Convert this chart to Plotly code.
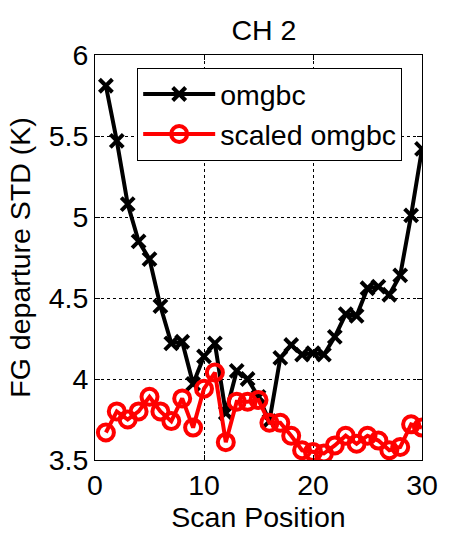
import plotly.graph_objects as go

# Scan positions 1..30 and first-guess departure standard deviations (K)
scan_pos = list(range(1, 31))
omgbc = [5.81, 5.47, 5.08, 4.85, 4.74, 4.45, 4.22, 4.23, 3.97, 4.14,
         4.22, 3.79, 4.05, 4.00, 3.89, 3.74, 4.13, 4.21, 4.15, 4.16,
         4.15, 4.26, 4.40, 4.39, 4.56, 4.57, 4.52, 4.64, 5.01, 5.42]
scaled_omgbc = [3.67, 3.80, 3.75, 3.80, 3.89, 3.80, 3.74, 3.88, 3.70, 3.94,
                4.04, 3.61, 3.86, 3.86, 3.87, 3.73, 3.73, 3.65, 3.56, 3.55,
                3.54, 3.59, 3.65, 3.60, 3.65, 3.62, 3.56, 3.58, 3.72, 3.70]

x_ticks = [0, 10, 20, 30]
y_ticks = [3.5, 4, 4.5, 5, 5.5, 6]

FONT = "Liberation Sans, Arial, sans-serif"
FS = 28.5

fig = go.Figure()
fig.add_trace(go.Scatter(
    x=scan_pos, y=omgbc, mode="lines+markers", name="omgbc",
    line=dict(color="black", width=4),
    marker=dict(symbol="x-thin-open", size=13, line=dict(color="black", width=4)),
))
fig.add_trace(go.Scatter(
    x=scan_pos, y=scaled_omgbc, mode="lines+markers", name="scaled omgbc",
    line=dict(color="red", width=4),
    marker=dict(symbol="circle-open", size=16, line=dict(color="red", width=4)),
))

axis_common = dict(
    showline=True, linecolor="black", linewidth=1, mirror="ticks",
    ticks="inside", ticklen=5, tickcolor="black",
    showgrid=True, gridcolor="black", griddash="dot", gridwidth=1,
    zeroline=False, tickfont=dict(family=FONT, size=FS, color="black"),
)

fig.update_layout(
    width=450, height=536,
    margin=dict(l=95, r=17, t=55, b=74),
    paper_bgcolor="white", plot_bgcolor="white",
    font=dict(family=FONT, color="black"),
    title=dict(text="CH 2", x=(95 + 433) / 2 / 450, xanchor="center",
               y=1 - 30 / 536, yanchor="middle",
               font=dict(family=FONT, size=FS, color="black")),
    xaxis=dict(range=[0, 30], tickvals=x_ticks, ticktext=[str(v) for v in x_ticks],
               title=dict(text="Scan Position", standoff=3,
                          font=dict(family=FONT, size=FS, color="black")),
               **axis_common),
    yaxis=dict(range=[3.5, 6], tickvals=y_ticks, ticktext=[f"{v:g}" for v in y_ticks],
               title=dict(text="FG departure STD (K)", standoff=9,
                          font=dict(family=FONT, size=FS, color="black")),
               **axis_common),
    legend=dict(x=0.129, y=0.968, xanchor="left", yanchor="top",
                bgcolor="white", bordercolor="black", borderwidth=1,
                font=dict(family=FONT, size=FS, color="black"),
                tracegroupgap=0, itemwidth=72),
    showlegend=True,
)

fig.write_html("out.html")
